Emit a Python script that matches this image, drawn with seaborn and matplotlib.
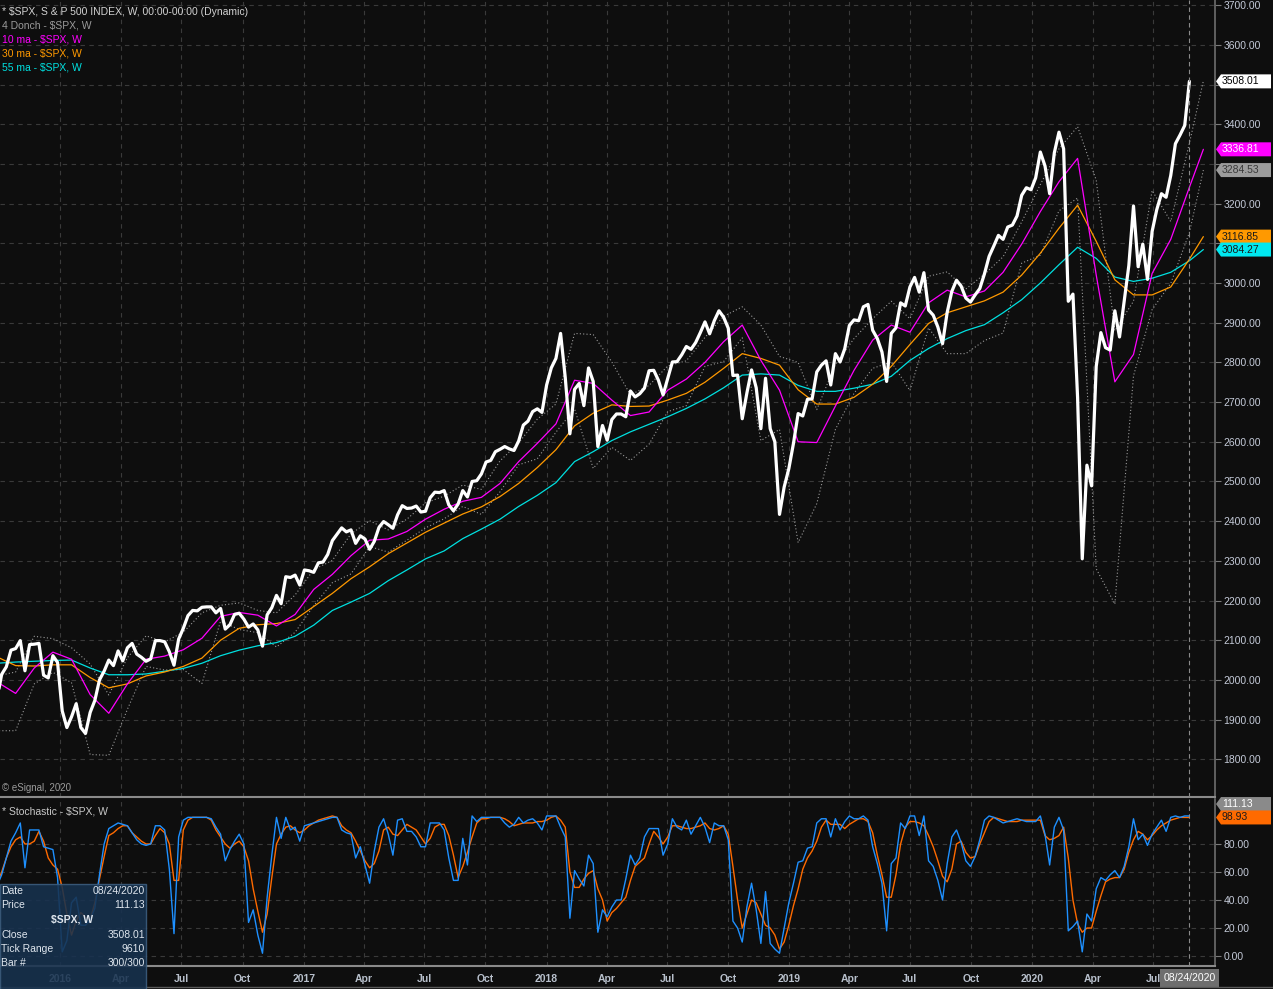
import pandas as pd
import seaborn as sns
import matplotlib.pyplot as plt
from matplotlib.patches import Polygon, Rectangle
from matplotlib.lines import Line2D
from matplotlib.transforms import IdentityTransform
from matplotlib.ticker import FuncFormatter

sns.set_theme(style='dark')
plt.rcParams['font.family'] = ['Liberation Sans', 'DejaVu Sans']

bg = '#0e0e0e'
grid_kw = dict(color='#3a3a3a', linestyle=(0, (4, 4)), linewidth=0.8)
tick_color = '#c4cad8'

first_week = '2015-09-28'
last_bar_label = '08/24/2020'

# weekly closes, one per week starting with the week of 2015-09-28
spx_close = [1951, 2014, 2033, 2075, 2079, 2099, 2023, 2089, 2090, 2092,
             2012, 2005, 2061, 2044, 1922, 1880, 1907, 1940, 1880, 1865,
             1918, 1948, 2000, 2022, 2050, 2036, 2073, 2048, 2081, 2092,
             2065, 2057, 2047, 2053, 2099, 2099, 2096, 2071, 2037, 2103,
             2130, 2162, 2175, 2174, 2183, 2184, 2184, 2169, 2180, 2128,
             2139, 2165, 2168, 2153, 2133, 2141, 2126, 2085, 2164, 2182,
             2213, 2192, 2260, 2258, 2264, 2239, 2277, 2275, 2271, 2295,
             2297, 2316, 2351, 2367, 2383, 2373, 2378, 2344, 2363, 2355,
             2329, 2349, 2384, 2399, 2391, 2382, 2416, 2439, 2432, 2433,
             2438, 2423, 2425, 2459, 2473, 2472, 2477, 2441, 2426, 2443,
             2477, 2461, 2500, 2502, 2519, 2549, 2553, 2575, 2581, 2588,
             2582, 2578, 2602, 2642, 2652, 2676, 2683, 2674, 2743, 2786,
             2810, 2873, 2762, 2620, 2732, 2747, 2691, 2786, 2752, 2588,
             2641, 2604, 2656, 2670, 2670, 2663, 2728, 2713, 2721, 2735,
             2779, 2780, 2755, 2718, 2760, 2801, 2802, 2819, 2840, 2833,
             2850, 2875, 2902, 2872, 2905, 2930, 2914, 2886, 2767, 2768,
             2658, 2723, 2781, 2736, 2633, 2760, 2633, 2600, 2417, 2486,
             2532, 2596, 2671, 2665, 2707, 2708, 2776, 2793, 2804, 2743,
             2822, 2801, 2834, 2893, 2907, 2905, 2940, 2946, 2881, 2860,
             2826, 2752, 2873, 2887, 2950, 2942, 2990, 3014, 2977, 3026,
             2932, 2919, 2889, 2847, 2926, 2979, 3007, 2992, 2962, 2952,
             2970, 2986, 3023, 3067, 3093, 3120, 3110, 3141, 3146, 3169,
             3221, 3240, 3235, 3265, 3330, 3295, 3225, 3328, 3380, 3338,
             2954, 2972, 2711, 2305, 2541, 2489, 2790, 2875, 2837, 2831,
             2930, 2864, 2955, 3044, 3194, 3041, 3098, 3009, 3130, 3185,
             3225, 3216, 3271, 3351, 3373, 3397, 3508.01]

# study lines read every 4th week (plus the displaced end point 3 weeks past the last bar)
ma10 = [1995, 1966, 2030, 2070, 2052, 1963, 1916, 1990, 2052, 2060,
        2076, 2105, 2160, 2170, 2163, 2136, 2165, 2228, 2266, 2313,
        2352, 2355, 2374, 2405, 2430, 2450, 2460, 2495, 2550, 2596,
        2645, 2755, 2747, 2705, 2666, 2675, 2730, 2758, 2800, 2852,
        2894, 2805, 2730, 2600, 2598, 2690, 2780, 2856, 2894, 2876,
        2950, 2982, 2965, 2980, 3027, 3098, 3180, 3255, 3314, 3020,
        2751, 2820, 3024, 3110, 3241, 3336.81]
ma30 = [2058, 2036, 2035, 2038, 2038, 2006, 1980, 1990, 2010, 2020,
        2034, 2055, 2100, 2130, 2139, 2142, 2152, 2185, 2218, 2255,
        2285, 2318, 2345, 2372, 2395, 2418, 2436, 2462, 2495, 2535,
        2580, 2640, 2672, 2693, 2689, 2690, 2705, 2722, 2750, 2785,
        2822, 2810, 2793, 2731, 2695, 2695, 2712, 2745, 2790, 2845,
        2898, 2925, 2940, 2955, 2977, 3020, 3075, 3138, 3196, 3105,
        3008, 2970, 2970, 2990, 3060, 3116.85]
ma55 = [2042, 2045, 2047, 2049, 2050, 2030, 2013, 2013, 2015, 2022,
        2029, 2042, 2061, 2075, 2086, 2094, 2110, 2138, 2175, 2196,
        2218, 2250, 2277, 2305, 2325, 2356, 2380, 2405, 2437, 2465,
        2497, 2550, 2575, 2603, 2625, 2644, 2663, 2684, 2708, 2736,
        2768, 2771, 2768, 2742, 2727, 2727, 2735, 2745, 2765, 2805,
        2835, 2860, 2880, 2895, 2925, 2958, 3000, 3046, 3090, 3062,
        3015, 3004, 3012, 3027, 3056, 3084.27]
donch_hi = [2010, 2020, 2110, 2104, 2081, 2040, 1962, 2056, 2111, 2096,
            2120, 2169, 2188, 2194, 2175, 2169, 2214, 2278, 2301, 2368,
            2401, 2378, 2405, 2446, 2463, 2491, 2480, 2552, 2597, 2657,
            2695, 2873, 2870, 2801, 2718, 2742, 2791, 2804, 2863, 2916,
            2940, 2894, 2815, 2800, 2681, 2795, 2860, 2910, 2954, 2910,
            3017, 3028, 2985, 3022, 3066, 3154, 3248, 3338, 3394, 3259,
            2880, 2954, 3233, 3155, 3352, 3509]
donch_lo = [1872, 1872, 1990, 2019, 1993, 1812, 1810, 1926, 2034, 2025,
            2026, 1991, 2148, 2127, 2119, 2083, 2120, 2187, 2245, 2267,
            2336, 2322, 2352, 2383, 2406, 2437, 2417, 2474, 2542, 2557,
            2624, 2683, 2533, 2586, 2553, 2594, 2676, 2691, 2790, 2802,
            2862, 2603, 2631, 2346, 2444, 2631, 2722, 2785, 2801, 2729,
            2887, 2822, 2822, 2855, 2874, 3050, 3070, 3182, 3214, 2280,
            2191, 2766, 2933, 2999, 3127, 3284.53]

stoch_k = [50, 58, 70, 82, 88, 95, 63, 90, 90, 90,
           78, 77, 76, 56, 3, 11, 38, 42, 22, 22,
           26, 34, 58, 80, 91, 93, 95, 94, 93, 88,
           83, 80, 79, 80, 93, 93, 90, 62, 16, 85,
           97, 99, 99, 99, 99, 99, 98, 92, 87, 68,
           76, 82, 87, 80, 24, 33, 15, 2, 42, 72,
           99, 84, 99, 90, 92, 82, 93, 94, 95, 96,
           97, 98, 99, 99, 90, 88, 87, 70, 78, 65,
           52, 75, 92, 98, 87, 72, 97, 98, 89, 89,
           85, 78, 78, 95, 95, 95, 90, 70, 54, 54,
           84, 65, 100, 96, 99, 99, 99, 99, 99, 95,
           92, 94, 99, 95, 97, 98, 95, 90, 100, 100,
           100, 92, 85, 27, 61, 55, 50, 72, 66, 17,
           33, 28, 35, 40, 40, 55, 72, 65, 70, 85,
           91, 91, 91, 72, 80, 98, 92, 90, 97, 87,
           93, 99, 92, 81, 95, 93, 93, 83, 25, 20,
           10, 35, 52, 33, 9, 46, 9, 5, 2, 20,
           38, 52, 67, 68, 77, 78, 95, 98, 98, 85,
           98, 90, 96, 100, 98, 98, 100, 97, 78, 66,
           52, 18, 66, 70, 95, 91, 100, 100, 86, 100,
           68, 64, 54, 40, 66, 85, 90, 81, 68, 64,
           71, 83, 97, 100, 99, 97, 95, 96, 97, 98,
           97, 96, 96, 96, 100, 87, 65, 92, 99, 90,
           18, 21, 25, 3, 30, 25, 48, 56, 54, 58,
           61, 56, 64, 78, 98, 83, 87, 79, 87, 92,
           97, 89, 99, 100, 99, 100, 100]
stoch_d = [52, 60, 70, 78, 83, 85, 80, 80, 82, 89,
           82, 70, 65, 62, 49, 30, 15, 25, 31, 28,
           26, 38, 55, 71, 86, 88, 91, 93, 93, 88,
           85, 82, 80, 80, 86, 91, 88, 80, 54, 54,
           90, 97, 99, 99, 99, 99, 97, 90, 85, 80,
           77, 80, 82, 78, 68, 48, 32, 17, 30, 56,
           80, 87, 92, 93, 90, 88, 90, 93, 95, 97,
           98, 99, 100, 99, 93, 90, 88, 82, 75, 68,
           63, 66, 75, 90, 92, 87, 86, 90, 94, 92,
           90, 85, 80, 84, 92, 94, 94, 86, 72, 56,
           64, 74, 85, 95, 98, 98, 99, 99, 99, 98,
           96, 93, 94, 95, 95, 95, 96, 96, 97, 99,
           100, 97, 92, 60, 49, 49, 55, 59, 61, 48,
           40, 25, 31, 34, 38, 42, 54, 64, 67, 70,
           80, 89, 85, 80, 85, 93, 93, 92, 91, 91,
           92, 93, 95, 91, 90, 91, 93, 87, 64, 40,
           20, 30, 40, 38, 30, 22, 20, 15, 5, 10,
           22, 36, 48, 62, 70, 75, 82, 92, 97, 94,
           94, 94, 91, 94, 96, 98, 98, 96, 88, 72,
           58, 42, 42, 58, 80, 92, 96, 96, 95, 93,
           86, 78, 68, 57, 53, 62, 80, 82, 74, 70,
           71, 80, 88, 96, 99, 98, 97, 96, 96, 96,
           97, 97, 97, 97, 97, 86, 83, 84, 86, 92,
           70, 40, 23, 17, 20, 20, 32, 43, 53, 55,
           56, 56, 62, 74, 83, 89, 87, 83, 86, 90,
           93, 95, 97, 98, 99, 99, 98.93]

legend_lines = [('* $SPX, S & P 500 INDEX, W, 00:00-00:00 (Dynamic)', '#d2d2d2'),
                ('4 Donch - $SPX, W', '#9a9a9a'),
                ('10 ma - $SPX, W', '#ff00ff'),
                ('30 ma - $SPX, W', '#ff9900'),
                ('55 ma - $SPX, W', '#00e0e0')]
data_window = [('Date', last_bar_label), ('Price', '111.13'), ('', '$SPX, W'),
               ('Close', '3508.01'), ('Tick Range', '9610'), ('Bar #', '300/300')]

n_bars = len(spx_close)
weeks = pd.date_range(first_week, periods=n_bars + 3, freq='W-MON')
bars = pd.DataFrame({'week': weeks[:n_bars], 'close': spx_close,
                     'k': stoch_k, 'd': stoch_d})
study_idx = list(range(0, n_bars, 4)) + [n_bars + 2]
studies = pd.DataFrame({'week': weeks[study_idx], 'ma10': ma10, 'ma30': ma30,
                        'ma55': ma55, 'hi': donch_hi, 'lo': donch_lo})

# last values shown in the coloured tags on the price scale
price_tags = [(spx_close[-1], 'white', 'black'), (ma10[-1], '#ff00ff', 'white'),
              (donch_lo[-1], '#9c9c9c', '#3a3a3a'), (ma30[-1], '#ff9900', '#1a1a1a'),
              (ma55[-1], '#00e8f0', '#1a1a1a')]

W, H = 1273, 989
fig = plt.figure(figsize=(W / 100, H / 100), dpi=100, facecolor=bg)
ax1 = fig.add_axes([0, 1 - 797 / H, 1215 / W, 797 / H], facecolor=bg)
ax2 = fig.add_axes([0, 1 - 966 / H, 1215 / W, 167 / H], facecolor=bg)

for col in ['hi', 'lo']:
    sns.lineplot(data=studies, x='week', y=col, ax=ax1, color='#9a9a9a',
                 linewidth=0.8, linestyle=(0, (1, 2)))
sns.lineplot(data=studies, x='week', y='ma55', ax=ax1, color='#00e0e0', linewidth=0.9)
sns.lineplot(data=studies, x='week', y='ma30', ax=ax1, color='#ff9900', linewidth=0.9)
sns.lineplot(data=studies, x='week', y='ma10', ax=ax1, color='#ff00ff', linewidth=0.9)
sns.lineplot(data=bars, x='week', y='close', ax=ax1, color='white', linewidth=2.3)

sns.lineplot(data=bars, x='week', y='d', ax=ax2, color='#ff6a00', linewidth=1.0)
sns.lineplot(data=bars, x='week', y='k', ax=ax2, color='#1e90ff', linewidth=1.0)

quarters = pd.date_range('2016-01-01', '2020-07-01', freq='QS')
q_labels = [str(d.year) if d.month == 1 else d.strftime('%b') for d in quarters]
xlim = (pd.Timestamp('2015-10-02 12:00'), pd.Timestamp('2020-10-01 12:00'))

for ax in (ax1, ax2):
    ax.set_xlim(xlim)
    ax.set_xlabel('')
    ax.set_ylabel('')
    ax.set_xticks(quarters)
    ax.yaxis.tick_right()
    ax.grid(True, **grid_kw)
    ax.axvline(bars['week'].iloc[-1], color='#8a8a8a', linestyle=(0, (4, 3)), linewidth=0.8)
    ax.tick_params(axis='y', colors='#7a7a7a', labelcolor=tick_color, labelsize=7.5,
                   length=4, width=0.8, pad=2)
    for s in ['left', 'top']:
        ax.spines[s].set_visible(False)
    ax.spines['right'].set_color('#6a6a6a')
    ax.spines['bottom'].set_color('#8a8a8a')
    ax.spines['bottom'].set_linewidth(1.5)


def price_fmt(v, pos):
    # the scale labels hidden under a value tag are not drawn
    if any(abs(v - t[0]) < 20 for t in price_tags):
        return ''
    return f'{v:.2f}'


ax1.set_ylim(1705, 3713)
ax1.set_yticks(range(1800, 3800, 100))
ax1.yaxis.set_major_formatter(FuncFormatter(price_fmt))
ax1.tick_params(axis='x', labelbottom=False, length=0)

ax2.set_ylim(-7.1, 112.1)
ax2.set_yticks([0, 20, 40, 60, 80])
ax2.yaxis.set_major_formatter(FuncFormatter(lambda v, p: f'{v:.2f}'))
ax2.set_xticklabels(q_labels)
ax2.tick_params(axis='x', colors='#7a7a7a', labelcolor='#b8c0cc', labelsize=7.5,
                length=3, pad=3)
for t in ax2.get_xticklabels():
    t.set_fontweight('bold')

# header texts
for k, (txt, c) in enumerate(legend_lines):
    fig.text(2 / W, 1 - (12 + 14 * k) / H, txt, color=c, fontsize=7.5, va='center')
fig.text(2 / W, 1 - 788 / H, '\u00a9 eSignal, 2020', color='#9a9a9a', fontsize=7, va='center')
fig.text(2 / W, 1 - 811 / H, '* Stochastic - $SPX, W', color='#c8c8c8', fontsize=7.5, va='center')


def value_tag(ax, v, label, fc, tc):
    yd = ax.transData.transform((0, v))[1]
    x0 = 1221
    fig.add_artist(Polygon([[x0 - 5, yd], [x0, yd + 7], [x0 + 50, yd + 7],
                            [x0 + 50, yd - 7], [x0, yd - 7]], closed=True,
                           transform=IdentityTransform(), fc=fc, ec='none', zorder=5))
    fig.text(x0 + 1, yd, label, transform=IdentityTransform(), color=tc,
             fontsize=7.5, va='center', ha='left', zorder=6)


for v, fc, tc in price_tags:
    value_tag(ax1, v, f'{v:.2f}', fc, tc)
value_tag(ax2, 108.5, '111.13', '#8a8a8a', 'white')
value_tag(ax2, stoch_d[-1], f'{stoch_d[-1]:.2f}', '#ff6a00', '#1a1a1a')

# last bar date tag on the time axis
ax2.annotate(last_bar_label, xy=(bars['week'].iloc[-1], 0), xycoords=('data', 'axes fraction'),
             xytext=(0, -12), textcoords='offset pixels', ha='center', va='center',
             color='white', fontsize=7.5, zorder=6, annotation_clip=False,
             bbox=dict(boxstyle='square,pad=0.35', fc='#6e6e6e', ec='none'))

# data window box
fig.add_artist(Rectangle((0, 0), 146 / W, 105 / H, transform=fig.transFigure,
                         fc='#17324f', ec='#3d5f80', alpha=0.88, zorder=4))
for k, (lab, val) in enumerate(data_window):
    yy = 1 - (891 + 14.5 * k) / H
    if lab:
        fig.text(1 / W, yy, lab, color='#dfe6ee', fontsize=7.5, va='center', zorder=6)
        fig.text(145 / W, yy, val, color='#dfe6ee', fontsize=7.5, va='center',
                 ha='right', zorder=6)
    else:
        fig.text(93 / W, yy, val, color='#dfe6ee', fontsize=7.5, va='center',
                 ha='right', fontweight='bold', zorder=6)

fig.add_artist(Line2D([0, 1], [1 - 987 / H] * 2, color='#5a5a5a', linewidth=1))

fig.savefig('out.png', dpi=100, facecolor=bg)
